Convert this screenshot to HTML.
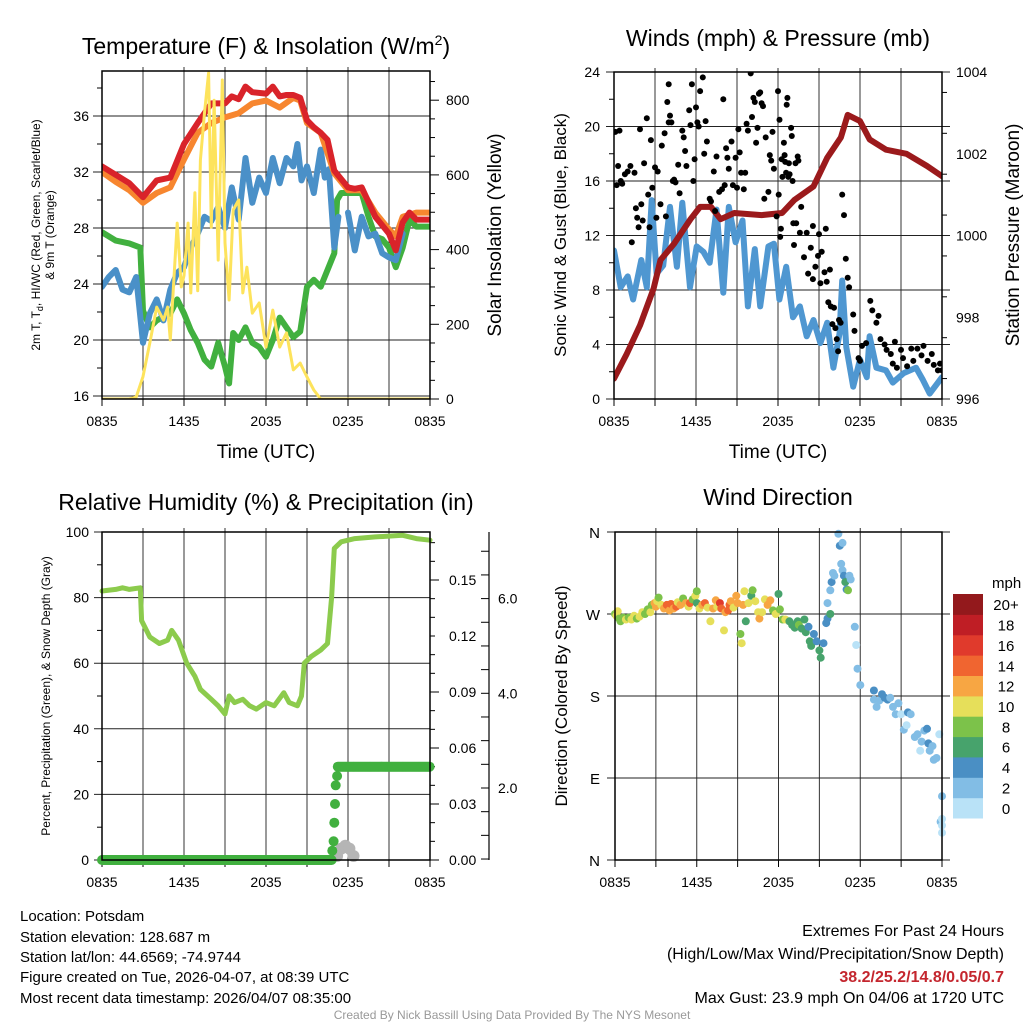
<!DOCTYPE html>
<html><head><meta charset="utf-8">
<style>
html,body{margin:0;padding:0;background:#fff;}
svg{display:block;font-family:"Liberation Sans",sans-serif;}
</style></head>
<body>
<svg id="c" width="1024" height="1024" viewBox="0 0 1024 1024">
<defs>
<clipPath id="cp1"><rect x="102" y="71" width="328" height="328"/></clipPath>
<clipPath id="cp2"><rect x="614" y="72" width="328" height="327"/></clipPath>
<clipPath id="cp3"><rect x="96" y="526" width="340" height="340"/></clipPath>
<clipPath id="cp4"><rect x="609" y="526" width="340" height="340"/></clipPath>
</defs>
<rect x="0" y="0" width="1024" height="1024" fill="#fff"/>
<text x="266" y="54" font-size="23" text-anchor="middle">Temperature (F) &amp; Insolation (W/m<tspan font-size="14" dy="-9">2</tspan><tspan dy="9">)</tspan></text>
<text x="778" y="46" font-size="23" text-anchor="middle">Winds (mph) &amp; Pressure (mb)</text>
<text x="266" y="510" font-size="23" text-anchor="middle">Relative Humidity (%) &amp; Precipitation (in)</text>
<text x="778" y="505" font-size="23" text-anchor="middle">Wind Direction</text>

<text transform="translate(40,235) rotate(-90)" font-size="12" text-anchor="middle">2m T, T<tspan font-size="9" dy="3">d</tspan><tspan dy="-3">, HI/WC (Red, Green, Scarlet/Blue)</tspan></text>
<text transform="translate(54,235) rotate(-90)" font-size="12" text-anchor="middle">&amp; 9m T (Orange)</text>
<text transform="translate(501,235) rotate(-90)" font-size="19" text-anchor="middle">Solar Insolation (Yellow)</text>
<text transform="translate(566,235) rotate(-90)" font-size="17" text-anchor="middle">Sonic Wind &amp; Gust (Blue, Black)</text>
<text transform="translate(1019,235) rotate(-90)" font-size="19" text-anchor="middle">Station Pressure (Maroon)</text>
<text transform="translate(50,696) rotate(-90)" font-size="12" text-anchor="middle">Percent, Precipitation (Green), &amp; Snow Depth (Gray)</text>
<text transform="translate(567,696) rotate(-90)" font-size="17" text-anchor="middle">Direction (Colored By Speed)</text>
<text x="266" y="458" font-size="19" text-anchor="middle">Time (UTC)</text>
<text x="778" y="458" font-size="19" text-anchor="middle">Time (UTC)</text>

<g font-size="15">
<text x="20" y="921">Location: Potsdam</text>
<text x="20" y="942">Station elevation: 128.687 m</text>
<text x="20" y="962">Station lat/lon: 44.6569; -74.9744</text>
<text x="20" y="982">Figure created on Tue, 2026-04-07, at 08:39 UTC</text>
<text x="20" y="1003">Most recent data timestamp: 2026/04/07 08:35:00</text>
</g>
<g font-size="16" text-anchor="end">
<text x="1004" y="936">Extremes For Past 24 Hours</text>
<text x="1004" y="959">(High/Low/Max Wind/Precipitation/Snow Depth)</text>
<text x="1004" y="982" fill="#c4262e" font-weight="bold">38.2/25.2/14.8/0.05/0.7</text>
<text x="1004" y="1003">Max Gust: 23.9 mph On 04/06 at 1720 UTC</text>
</g>
<text x="512" y="1019" font-size="12" fill="#999" text-anchor="middle">Created By Nick Bassill Using Data Provided By The NYS Mesonet</text>
<g id="root"></g>
</svg>
<script>
// ---------- DATA ----------
const xTickLabels = ["0835","1435","2035","0235","0835"];
const tempTimes = [0,1,2,3,4,5,6,7,8,9,9.5,10,10.5,11,12,12.5,13,13.5,14,14.5,15,15.5,16,16.5,17,18,18.5,19,20,21,21.5,22,22.5,23,24];
const redTemp = [32.4,31.8,31.2,30.2,31.4,31.6,34,35.5,36.9,36.9,37.4,37.2,38.1,37.7,37.6,38.1,37.4,37.5,37.5,37.3,35.7,35.2,34.8,34.3,32.1,30.9,30.8,30.9,28.8,27.6,26.4,28.4,29.1,28.6,28.6];
const orangeTimes = [0,1,2,3,4,5,6,7,8,9,10,11,12,13,14,14.5,15,16,17,18,19,20,21,21.5,22,23,24];
const orangeTemp = [32,31.3,30.7,29.8,30.5,30.9,32.9,34.8,35.5,35.9,36.2,36.9,37.1,36.6,37.3,37.1,35.5,34.8,31.9,30.7,30.7,29.1,27.9,27.4,28.8,29.1,29.1];
const blueTimes = [0,0.5,1,1.5,2,2.5,3,3.5,4,4.5,5,5.5,6,6.5,7,7.5,8,8.5,9,9.5,10,10.5,11,11.5,12,12.5,13,13.5,14,14.3,14.6,15,15.5,16,16.3,16.6,17,17.3];
const blueTemp = [23.8,24.5,25,23.6,23.4,24.5,19.8,21.9,22.9,21.4,23.6,24.8,25.2,26.6,27.6,28.8,28.5,29.5,28,30.9,28.6,33,29.8,31.6,30.5,33,31.2,33,32.4,34,31.4,32.4,30.5,33.6,31.6,32.2,26.6,28.8];
const blueTimes2 = [18,18.5,19,19.5,20,20.5,21,21.5,22];
const blueTemp2 = [29.1,26.4,28.8,27.4,27.6,26.2,25.9,25.7,27.6];
const greenTimes = [0,1,2,2.8,3,3.5,4,5,5.5,6,6.5,7,7.5,8,8.5,9,9.3,9.6,10,10.5,11,11.5,12,12.5,13,13.5,14,14.5,15,15.5,16,16.5,17,17.2,17.5,18,19,19.5,20,20.5,21,21.5,22,22.5,23,24];
const greenTemp = [27.7,27.1,26.9,26.6,22.1,20.9,21.4,21.9,22.9,21.9,20.7,19.8,18.6,18.1,19.8,18.1,16.9,20.5,20,20.9,19.8,19.5,18.8,20,21.6,20.9,20.2,20.6,23.8,24.3,23.8,25,26.2,30,30.5,30.5,30.5,28.8,27.4,27.2,26.6,25.2,26.6,28.6,28.1,28.1];
const solarTimes = [0,1,2,2.5,3,3.5,4,4.5,4.8,5,5.5,5.8,6,6.3,6.5,6.8,7,7.2,7.5,7.8,8,8.2,8.5,8.8,9,9.3,9.6,10,10.3,10.6,11,11.5,12,12.5,13,13.5,14,14.5,15,15.5,16,20,24];
const solarVals = [0,0,0,5,60,150,246,211,246,158,471,300,330,471,284,552,290,640,766,873,460,800,372,854,418,265,506,533,284,353,230,257,139,238,139,177,78,96,59,24,0,0,0];
const tempTicks = [16,20,24,28,32,36];
const solarTicks = [0,200,400,600,800];

const windTimes = [0,0.49,1.0,1.4,2.0,2.4,2.76,3.12,3.6,4.1,4.6,5.0,5.56,6.05,6.54,7.0,7.5,8.0,8.4,8.9,9.4,9.8,10.3,10.7,11.3,11.7,12.1,12.6,13.1,13.6,14.1,14.6,15.1,15.6,16.05,16.5,16.7,17.0,17.5,18.0,18.5,18.7,19.2,19.9,20.4,21.2,22.1,22.6,23.1,24];
const windVals = [10.9,8.2,9,7.3,10.2,8.2,14.6,9.2,9.8,14.1,9.7,14.4,8.2,11.2,10.8,10,13.9,7.8,14.1,11.5,13.1,6.8,11,6.8,11.2,11.4,7.3,9.7,6,6.8,4.6,5.8,4.1,5.6,2.3,4.8,8.7,3.8,0.9,2.9,1.6,4.6,2.3,2.1,1.2,1.9,2.3,1.4,0.4,1.6];
const pressTimes = [0,0.93,1.9,2.9,3.4,4.4,5.6,6.3,7.1,7.8,8.8,10.8,12.3,13.2,14.6,15.6,16.6,17.1,18,18.7,19.9,21.4,22.9,24];
const pressVals = [996.5,997.1,997.8,998.7,999.4,999.8,1000.4,1000.7,1000.7,1000.4,1000.55,1000.5,1000.55,1000.87,1001.2,1001.9,1002.4,1002.95,1002.8,1002.35,1002.1,1002.0,1001.7,1001.45];
const gustTimes = [0.1,0.2,0.3,0.4,0.5,0.6,0.8,1,1.2,1.3,1.5,1.6,1.7,1.8,1.9,2,2.1,2.2,2.4,2.5,2.6,2.7,2.8,3,3.1,3.2,3.4,3.5,3.7,3.8,3.9,4,4,4.1,4.2,4.3,4.4,4.5,4.7,4.8,5,5.1,5.2,5.3,5.5,5.6,5.7,5.8,5.9,6,6.1,6.2,6.3,6.5,6.6,6.7,6.8,7,7.1,7.3,7.4,7.5,7.7,7.9,8,8.1,8.2,8.3,8.4,8.6,8.7,8.9,9,9.1,9.2,9.3,9.5,9.6,9.7,9.8,10,10.1,10.2,10.3,10.4,10.5,10.6,10.7,10.8,10.9,11,11.1,11.3,11.4,11.5,11.6,11.7,11.9,12,12.05,12.11,12.16,12.21,12.27,12.32,12.43,12.48,12.53,12.59,12.64,12.69,12.75,12.8,12.85,12.96,13.01,13.07,13.12,13.17,13.28,13.33,13.44,13.49,13.6,13.7,13.9,14.1,14.2,14.4,14.55,14.55,14.74,14.93,15.0,15.1,15.2,15.4,15.5,15.56,15.68,15.8,15.86,15.98,16.1,16.2,16.3,16.4,16.46,16.58,16.7,16.83,16.96,17.1,17.2,17.5,17.6,17.9,18,18.15,18.45,18.75,18.9,19.2,19.35,19.5,19.8,19.95,20.25,20.4,20.55,20.7,21,21.15,21.45,21.75,21.9,22.2,22.5,22.65,22.95,23.25,23.4,23.7,23.85,24];
const gustVals = [19.6,15.7,17.1,19.7,16,15.8,16.5,16.7,17.1,11.5,16.6,14,13.3,12.6,19.8,14.3,13.1,17.3,20.6,15,12.6,19,15.5,17,13.3,16.7,14.3,18.6,19.5,13.4,21.8,20.3,23.1,20.8,20.3,16,16.1,15.9,17.2,15.1,19.7,19.2,18.2,17.1,21.2,20.1,23.1,16,17.6,21.4,20.3,20,22.6,23.6,18,20.4,18.9,14.7,14.5,16.7,13.8,17.8,15.2,15.4,22,15.7,18.4,17.7,16.9,18.9,15.7,17.7,15.5,19.8,18.1,16.6,15.4,16.6,20.2,19.7,23.9,20.7,22.1,21.8,18.8,19.9,22.4,22.5,21.7,21.5,14.7,19.2,15.2,17.9,17.5,19.6,16.9,13.4,22.6,15,20.5,11.9,12.5,17.6,16.3,18.8,17.9,17.4,16.6,21.6,22.1,16.3,17.3,16.5,19.9,19.3,16,12.9,11.3,17.3,12.9,17.8,17.5,12.2,14.1,10.4,12.2,9.2,11.1,12.7,8.8,9.7,10.5,12.1,8.5,10.8,9.3,12.5,8.6,7.1,9.5,6.8,5.5,6.7,5.2,4.4,3.5,5.8,5.6,15,13.5,10.3,8.9,8.2,6.2,5,3,2.8,3.9,4.1,7.2,6.5,5.6,6.1,4.4,4,3.6,3.3,2.6,4.2,2.3,3.6,3,2.4,3.7,2.8,3.7,3.2,3.9,2.8,3.3,2.5,2.1,2.6,2.1];
const windTicks = [0,4,8,12,16,20,24];
const pressTicks = [996,998,1000,1002,1004];

const rhTimes = [0,1,1.5,2,2.8,2.9,3.5,4.2,4.8,5.1,5.6,6.2,6.8,7.2,8,8.5,9,9.3,9.7,10.3,10.8,11.3,12,12.6,13.3,13.7,14.3,14.6,14.8,15.3,16,16.5,16.8,17,17.5,18.5,20,22,23,24];
const rhVals = [82,82.5,83,82.5,83,73,68,66,67,70,67,60,56,52,49,47,44.5,50,48,49,47,46,48,47,51,48,47,50,60,62,64,66,80,95,97,98,98.5,99,98,97.5];
const precipTimes = [16.85,16.95,17.0,17.05,17.1,17.2];
const precipVals = [0.005,0.01,0.02,0.03,0.04,0.045];
const snowTimes = [17.2,17.5,17.8,18.1,18.4];
const snowVals = [0.45,0.72,0.78,0.72,0.55];
const rhTicks = [0,20,40,60,80,100];
const precipTicks = [0,0.03,0.06,0.09,0.12,0.15];
const precipTickLabels = ["0.00","0.03","0.06","0.09","0.12","0.15"];
const snowTicks = [2,4,6];
const snowTickLabels = ["2.0","4.0","6.0"];

const dirTimes = [0,0.1,0.2,0.3,0.4,0.6,0.8,1,1.2,1.4,1.6,1.8,2,2.2,2.4,2.6,2.7,2.9,3,3.1,3.2,3.4,3.6,3.8,4,4.1,4.3,4.5,4.6,4.8,5,5.2,5.4,5.5,5.7,5.9,6,6,6.2,6.4,6.6,6.8,7,7.2,7.4,7.5,7.7,7.8,8,8.1,8.3,8.4,8.5,8.7,8.9,9,9.2,9.3,9.4,9.5,9.6,9.8,10,10.1,10.3,10.5,10.6,10.8,11,11.2,11.4,11.6,11.8,12,12.1,12.3,12.5,12.8,13,13.2,13.4,13.5,13.7,13.9,14,14.2,14.3,14.4,14.6,14.8,15,15.1,15.3,15.5,15.6,15.8,15.6,15.8,15.9,16.0,16.1,16.4,16.5,16.6,16.7,16.8,16.9,17.0,17.1,17.2,17.3,16.7,17.6,17.7,17.8,18.0,19,19,19.2,19.4,19.6,19.8,20,20.2,20.4,20.6,20.8,21,21.2,21.4,21.5,21.7,22,22.2,22.4,22.5,22.7,22.9,23,23.1,23.3,23.4,23.6,23.8,23.9,24,24,24,24];
const dirVals = [270,268,273,265,262,266,264,266,264,268,265,267,272,270,275,272,280,282,278,284,288,280,276,280,274,281,276,278,283,280,287,282,278,282,286,290,295,282,276,280,282,277,262,276,285,278,282,276,252,272,274,280,284,277,290,282,248,238,280,295,262,282,290,296,284,272,265,272,286,280,285,274,270,292,275,264,264,262,258,255,262,258,254,264,250,256,240,235,248,240,230,222,238,260,265,270,282,296,305,315,312,358,345,325,318,312,305,297,296,312,308,348,256,236,210,192,186,176,168,175,182,178,176,178,168,160,172,160,143,148,162,160,135,138,120,130,142,144,128,120,125,110,112,138,42,70,45,38,30];
const dirSpeeds = [9,10,10,8,8,9,10,8,10,10,9,10,10,8,8,10,8,12,13,10,8,10,12,15,12,14,12,15,10,12,8,13,10,14,8,10,8,7,11,12,14,11,10,12,13,10,16,14,10,12,15,14,12,11,13,12,8,10,12,10,6,10,6,8,10,10,12,10,10,12,12,8,10,6,9,8,10,6,7,6,6,8,6,6,6,4,6,6,4,4,6,6,4,4,4,6,2,2,4,2,2,2,4,2,2,4,6,4,8,2,2,2,2,0,2,2,4,2,2,2,4,4,4,2,2,2,2,0,2,0,4,2,2,2,0,2,2,4,4,2,2,2,2,0,2,2,0,0,0];
const dirTickLabels = ["N","E","S","W","N"];
const speedBinLabels = ["0","2","4","6","8","10","12","14","16","18","20+"];
const speedColors = ["#b9e2f7","#82bde5","#4a8fc4","#47a36c","#7cc24a","#e6df5a","#f7a643","#f06530","#e03a2c","#bf1e25","#93191c"];

// ---------- DRAW ----------
const NS = "http://www.w3.org/2000/svg";
const root = document.getElementById("root");
function mk(tag, parent){ const e=document.createElementNS(NS,tag); (parent||root).appendChild(e); return e; }
function grp(name, clip){ const g=mk("g"); if(clip) g.setAttribute("clip-path","url(#"+clip+")");
  
  
  return g; }
function line(g,x1,y1,x2,y2,stroke,w,name){ const e=mk("line",g);
  e.setAttribute("x1",x1); e.setAttribute("y1",y1); e.setAttribute("x2",x2); e.setAttribute("y2",y2);
  e.setAttribute("stroke",stroke); e.setAttribute("stroke-width",w);
  
  
  return e; }
function text(g,x,y,s,size,anchor,name){ const e=mk("text",g);
  e.setAttribute("x",x); e.setAttribute("y",y); e.setAttribute("font-size",size); e.setAttribute("text-anchor",anchor); e.textContent=s;
  
  
  return e; }
function poly(g,ts,vs,fx,fy,color,w,name){ const e=mk("polyline",g);
  e.setAttribute("points", ts.map((t,i)=>fx(t).toFixed(1)+","+fy(vs[i]).toFixed(1)).join(" "));
  e.setAttribute("fill","none"); e.setAttribute("stroke",color); e.setAttribute("stroke-width",w);
  e.setAttribute("stroke-linejoin","round"); e.setAttribute("stroke-linecap","round");
  
  
  return e; }
function dot(g,x,y,r,color,name){ const e=mk("circle",g);
  e.setAttribute("cx",x.toFixed(1)); e.setAttribute("cy",y.toFixed(1)); e.setAttribute("r",r); e.setAttribute("fill",color);
  
  
  return e; }

function frame(P, pfx){
  const g = grp(pfx+"-axes");
  const tx = t => P.x0 + t/24*(P.x1-P.x0);
  for(let h=3;h<24;h+=3) line(g,tx(h),P.y0-4,tx(h),P.y1,"#333",1,pfx+"-vgrid");
  for(let h=0;h<=24;h+=3) line(g,tx(h),P.y1,tx(h),P.y1+7,"#000",1,pfx+"-xtick");
  xTickLabels.forEach((s,i)=> text(g,tx(i*6),P.y1+27,s,14,"middle",pfx+"-xtick-label"));
  return {g,tx};
}
function border(P,pfx){
  const r=mk("rect"); r.setAttribute("x",P.x0); r.setAttribute("y",P.y0); r.setAttribute("width",P.x1-P.x0); r.setAttribute("height",P.y1-P.y0);
  r.setAttribute("fill","none"); r.setAttribute("stroke","#000"); r.setAttribute("stroke-width",1.5);
  
  
}

// Panel 1
{
  const P={x0:102,x1:430,y0:71,y1:399};
  const {g,tx}=frame(P,"temp");
  const yL=v=>396-(v-16)*14, yR=v=>399-v*0.3735;
  tempTicks.forEach(v=>{ line(g,P.x0-9,yL(v),P.x1,yL(v),"#222",1,"temp-hgrid"); text(g,P.x0-13,yL(v)+5,String(v),14,"end","temp-ytick-label"); });
  for(let v=18;v<=38;v+=4) line(g,P.x0-5,yL(v),P.x0,yL(v),"#000",1,"temp-minor-tick");
  for(let v=0;v<=850;v+=50) line(g,P.x1,yR(v),P.x1+(v%200?5:9),yR(v),"#000",1,"solar-tick");
  solarTicks.forEach(v=> text(g,P.x1+16,yR(v)+5,String(v),14,"start","solar-tick-label"));
  const s=grp("temp-series","cp1");
  poly(s,greenTimes,greenTemp,tx,yL,"#41b03f",6,"dewpoint-line");
  poly(s,blueTimes,blueTemp,tx,yL,"#4a90c8",6,"windchill-line");
  poly(s,blueTimes2,blueTemp2,tx,yL,"#4a90c8",6,"windchill-line-late");
  poly(s,orangeTimes,orangeTemp,tx,yL,"#f7862f",6,"temp-9m-line");
  poly(s,tempTimes,redTemp,tx,yL,"#d9232a",6,"temp-2m-line");
  poly(s,solarTimes,solarVals,tx,yR,"#fde35c",3,"insolation-line");
  border(P,"temp");
}
// Panel 2
{
  const P={x0:614,x1:942,y0:72,y1:399};
  const {g,tx}=frame(P,"wind");
  const yL=v=>399-v*13.625, yR=p=>399-(p-996)*40.875;
  windTicks.forEach(v=>{ line(g,P.x0-8,yL(v),P.x1+8,yL(v),"#222",1,"wind-hgrid"); text(g,P.x0-14,yL(v)+5,String(v),14,"end","wind-ytick-label"); });
  for(let v=2;v<24;v+=4) line(g,P.x0-5,yL(v),P.x0,yL(v),"#000",1,"wind-minor-tick");
  for(let p=996.5;p<1004;p+=1) line(g,P.x1,yR(p),P.x1+5,yR(p),"#000",1,"pressure-minor-tick");
  pressTicks.forEach(p=> text(g,P.x1+14,yR(p)+5,String(p),14,"start","pressure-tick-label"));
  const s=grp("wind-series","cp2");
  poly(s,windTimes,windVals,tx,yL,"#4f97d1",6,"sonic-wind-line");
  poly(s,pressTimes,pressVals,tx,yR,"#9b1a1c",6,"pressure-line");
  gustTimes.forEach((t,i)=> dot(s,tx(t),yL(gustVals[i]),3,"#000","gust-point"));
  border(P,"wind");
}
// Panel 3
{
  const P={x0:102,x1:430,y0:532,y1:860};
  const {g,tx}=frame(P,"rh");
  const yL=v=>860-v*3.28, yP=p=>860-p*1866.7, yS=s=>882.7-s*47.35;
  rhTicks.forEach(v=>{ line(g,P.x0-8,yL(v),P.x1,yL(v),"#222",1,"rh-hgrid"); text(g,P.x0-13,yL(v)+5,String(v),14,"end","rh-ytick-label"); });
  for(let v=10;v<100;v+=20) line(g,P.x0-5,yL(v),P.x0,yL(v),"#000",1,"rh-minor-tick");
  for(let p=0;p<=0.175;p+=0.01) line(g,P.x1,yP(p),P.x1+(Math.abs(p*100%3)<0.01?9:5),yP(p),"#000",1,"precip-tick");
  precipTicks.forEach((p,i)=> text(g,P.x1+19,yP(p)+5,precipTickLabels[i],14,"start","precip-tick-label"));
  line(g,489,532,489,860,"#000",1.2,"snow-axis-line");
  for(let s=0.5;s<=7;s+=0.5) if(yS(s)<=860&&yS(s)>=532) line(g,481,yS(s),489,yS(s),"#000",1,"snow-tick");
  snowTicks.forEach((s,i)=> text(g,498,yS(s)+5,snowTickLabels[i],14,"start","snow-tick-label"));
  const s=grp("rh-series","cp3");
  snowTimes.forEach((t,i)=> dot(s,tx(t),Math.min(yS(snowVals[i]),856),6,"#b5b5b5","snow-point"));
  for(let t=0;t<=16.8;t+=0.08) dot(s,tx(t),yP(0),5,"#41b03f","precip-point-zero");
  precipTimes.forEach((t,i)=> dot(s,tx(t),yP(precipVals[i]),5,"#41b03f","precip-point"));
  for(let t=17.25;t<=24.001;t+=0.08) dot(s,tx(t),yP(0.05),5,"#41b03f","precip-point-flat");
  poly(s,rhTimes,rhVals,tx,yL,"#8ccb4d",5,"rh-line");
  border(P,"rh");
}
// Panel 4
{
  const P={x0:615,x1:942,y0:532,y1:860};
  const {g,tx}=frame(P,"dir");
  const yD=d=>860-d*328/360;
  dirTickLabels.forEach((s,i)=>{ line(g,P.x0-8,yD(i*90),P.x1+8,yD(i*90),"#222",1,"dir-hgrid"); text(g,P.x0-15,yD(i*90)+6,s,15,"end","dir-tick-label"); });
  const s=grp("dir-series","cp4");
  dirTimes.forEach((t,i)=>{ const c=speedColors[Math.min(10,Math.floor(dirSpeeds[i]/2))]; dot(s,tx(t),yD(dirVals[i]),4,c,"dir-point"); });
  border(P,"dir");
  const cb=grp("speed-colorbar");
  text(cb,992,588,"mph",15,"start","colorbar-title");
  const h=224/11;
  speedColors.forEach((c,i)=>{ const r=mk("rect",cb); const y=594+(10-i)*h;
    r.setAttribute("x",953); r.setAttribute("y",y.toFixed(1)); r.setAttribute("width",30); r.setAttribute("height",(h+0.5).toFixed(1)); r.setAttribute("fill",c);
    
    
    text(cb,1006,y+h/2+6,speedBinLabels[i],15,"middle","colorbar-label"); });
}
</script>
</body></html>
